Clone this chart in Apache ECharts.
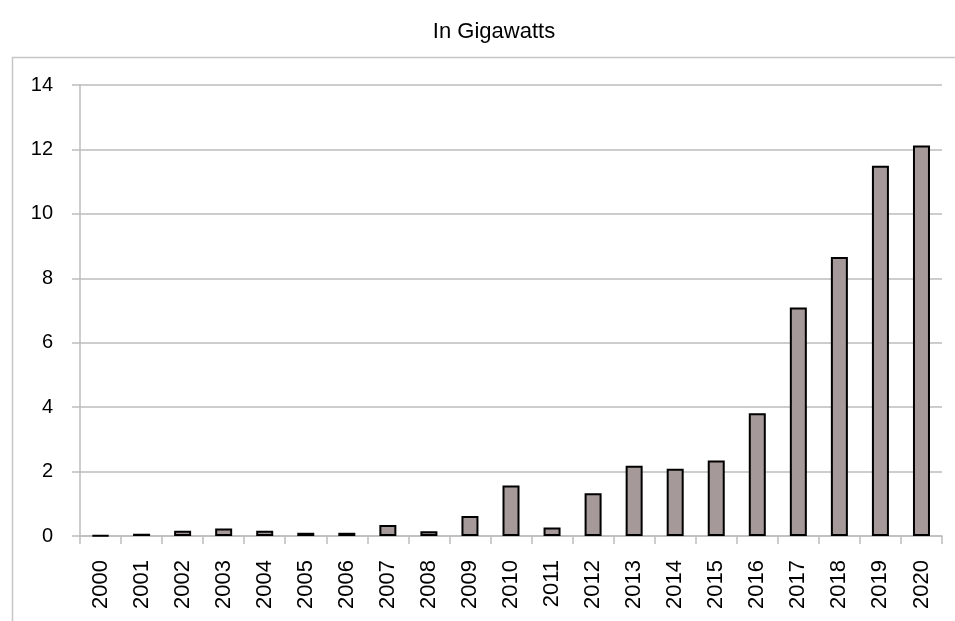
<!DOCTYPE html>
<html>
<head>
<meta charset="utf-8">
<script src="https://cdn.jsdelivr.net/npm/echarts@6/dist/echarts.min.js"></script>
<style>html,body{margin:0;padding:0;background:#fff}#c{width:955px;height:621px}</style>
</head>
<body>
<div id="c"></div>
<script>
const titleText = 'In Gigawatts';
const years = ['2000','2001','2002','2003','2004','2005','2006','2007','2008','2009','2010','2011','2012','2013','2014','2015','2016','2017','2018','2019','2020'];
const gigawatts = [0.02,0.07,0.16,0.23,0.16,0.10,0.10,0.34,0.15,0.62,1.57,0.26,1.33,2.18,2.09,2.34,3.81,7.09,8.66,11.49,12.12];
const yTicks = {min: 0, max: 14, interval: 2};

const chart = echarts.init(document.getElementById('c'));
chart.setOption({
  animation: false,
  backgroundColor: '#ffffff',
  title: {
    text: titleText, left: 489, top: 16, textAlign: 'center',
    textStyle: {fontFamily: 'Liberation Sans', fontSize: 22, fontWeight: 'normal', color: '#000'}
  },
  graphic: [{
    type: 'rect', left: 10, top: 55, shape: {width: 1000, height: 600},
    style: {fill: 'none', stroke: '#c6c6c6', lineWidth: 1.5}, silent: true, z: -1
  }],
  grid: {left: 80, right: 13, top: 85, bottom: 85},
  xAxis: {
    type: 'category', data: years,
    axisLine: {lineStyle: {color: '#bdbdbd', width: 1.5}},
    axisTick: {show: true, length: 8, lineStyle: {color: '#bdbdbd', width: 1.5}},
    axisLabel: {rotate: 90, margin: 24, fontFamily: 'Liberation Sans', fontSize: 22, color: '#000', interval: 0}
  },
  yAxis: {
    type: 'value', min: yTicks.min, max: yTicks.max, interval: yTicks.interval,
    axisLine: {show: true, lineStyle: {color: '#bdbdbd', width: 1.5}},
    axisTick: {show: true, length: 8, lineStyle: {color: '#bdbdbd', width: 1.5}},
    splitLine: {lineStyle: {color: '#bdbdbd', width: 1.5}},
    axisLabel: {margin: 27, fontFamily: 'Liberation Sans', fontSize: 20, color: '#000'}
  },
  series: [{
    type: 'bar', data: gigawatts, barWidth: 17,
    itemStyle: {color: '#a59999', borderColor: '#000', borderWidth: 2}
  }]
});
</script>
</body>
</html>
